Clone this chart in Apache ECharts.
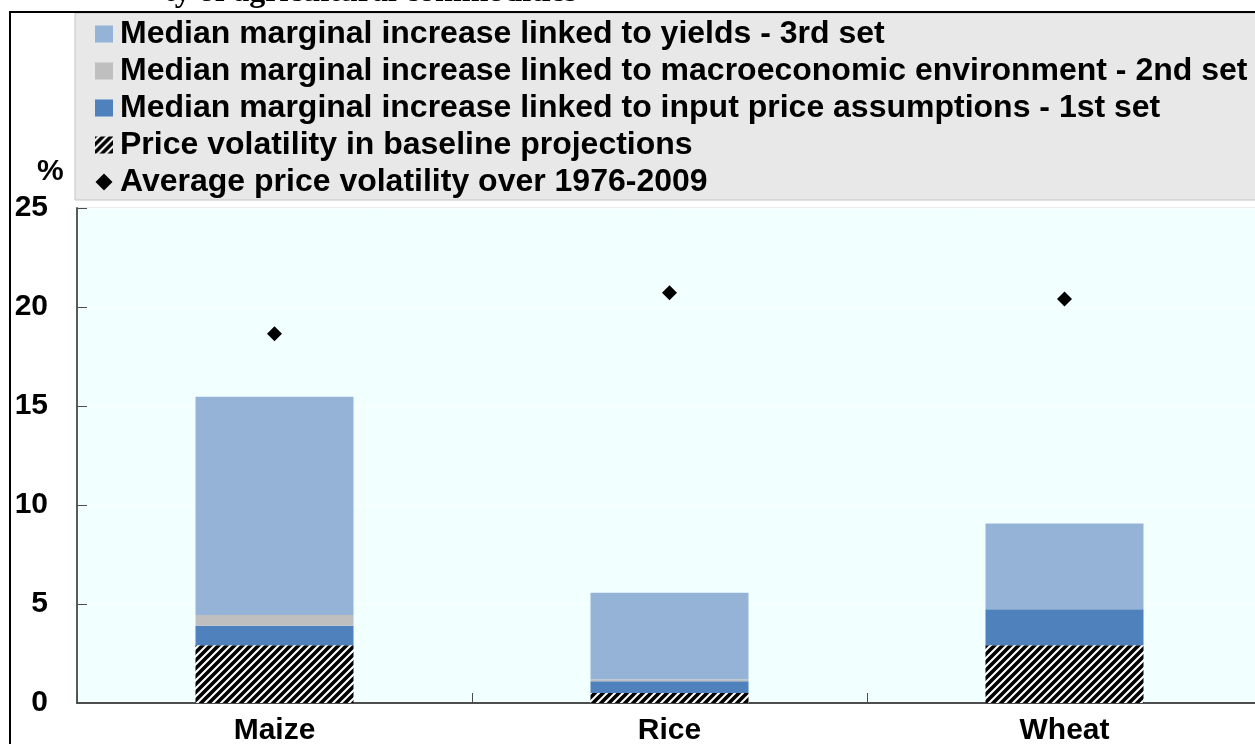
<!DOCTYPE html>
<html>
<head>
<meta charset="utf-8">
<script src="https://cdn.jsdelivr.net/npm/echarts@6/dist/echarts.min.js"></script>
<style>
  html, body { margin: 0; padding: 0; background: #fff; }
  #chart { width: 1255px; height: 744px; }
</style>
</head>
<body>
<div id="chart"></div>
<script>
// categories and values (%)
const categories = ['Maize', 'Rice', 'Wheat'];
const baseline = [2.92, 0.5, 2.92];      // price volatility in baseline projections
const inputPrice = [0.98, 0.6, 1.82];    // 1st set
const macroEnv = [0.54, 0.1, 0];         // 2nd set
const yieldsSet = [11.03, 4.37, 4.33];   // 3rd set
const avgVol = [18.65, 20.72, 20.41];    // average 1976-2009
const yTicks = [0, 5, 10, 15, 20, 25];

const FONT = 'Liberation Sans';

// diagonal black / white stripes
const makeHatch = () => {
  const c = document.createElement('canvas');
  c.width = 8;
  c.height = 8;
  const ctx = c.getContext('2d');
  ctx.fillStyle = '#fff';
  ctx.fillRect(0, 0, 8, 8);
  ctx.strokeStyle = '#000';
  ctx.lineWidth = 3.6;
  ctx.beginPath();
  ctx.moveTo(-2, 10); ctx.lineTo(10, -2);
  ctx.moveTo(-6, 6); ctx.lineTo(6, -6);
  ctx.moveTo(2, 14); ctx.lineTo(14, 2);
  ctx.stroke();
  return c;
};
const hatch = { image: makeHatch(), repeat: 'repeat' };

const names = {
  yields: 'Median marginal increase linked to yields - 3rd set',
  macro: 'Median marginal increase linked to macroeconomic environment - 2nd set',
  input: 'Median marginal increase linked to input price assumptions - 1st set',
  base: 'Price volatility in baseline projections',
  avg: 'Average price volatility over 1976-2009'
};

const chart = echarts.init(document.getElementById('chart'));

const option = {
  animation: false,
  backgroundColor: '#fff',
  graphic: [
    // grey legend panel
    {
      type: 'rect',
      z: -10,
      shape: { x: 75, y: 13, width: 1185, height: 187 },
      style: { fill: '#E8E8E8', stroke: '#C4C4C4', lineWidth: 1 }
    },
    // outer frame
    {
      type: 'polyline',
      z: 10,
      shape: { points: [[10, 744], [10, 12], [1255, 12]] },
      style: { stroke: '#000', lineWidth: 2, fill: null }
    },
    // cut-off title
    {
      type: 'text',
      left: 164,
      top: -23,
      style: {
        text: 'ty of agricultural commodities',
        font: 'bold 32px "Liberation Serif"',
        fill: '#000'
      }
    },
    // unit
    {
      type: 'text',
      left: 37,
      top: 157,
      style: {
        text: '%',
        font: 'bold 30px "' + FONT + '"',
        fill: '#000'
      }
    }
  ],
  legend: {
    orient: 'vertical',
    left: 95,
    top: 18,
    itemWidth: 18,
    itemHeight: 17,
    itemGap: 5,
    padding: 0,
    selectedMode: false,
    textStyle: {
      fontFamily: FONT,
      fontWeight: 'bold',
      fontSize: 32,
      lineHeight: 30,
      color: '#000',
      padding: [0, 0, 0, 2]
    },
    data: [
      { name: names.yields, icon: 'rect' },
      { name: names.macro, icon: 'rect' },
      { name: names.input, icon: 'rect' },
      { name: names.base, icon: 'rect' },
      { name: names.avg, icon: 'path://M7,0 L14,7 L7,14 L0,7 Z' }
    ]
  },
  grid: {
    left: 77,
    top: 208,
    width: 1185,
    bottom: 41,
    outerBoundsMode: 'none',
    show: true,
    backgroundColor: '#F2FFFF',
    borderColor: '#D6D6D6',
    borderWidth: 1
  },
  xAxis: {
    type: 'category',
    data: categories,
    axisLine: { lineStyle: { color: '#4D4D4D', width: 2 } },
    axisTick: { show: true, inside: true, length: 10, lineStyle: { color: '#4D4D4D' } },
    axisLabel: {
      margin: 13,
      fontFamily: FONT,
      fontWeight: 'bold',
      fontSize: 30,
      color: '#000'
    }
  },
  yAxis: {
    type: 'value',
    min: 0,
    max: 25,
    interval: 5,
    axisLine: { show: true, lineStyle: { color: '#5A5A5A', width: 2 } },
    axisTick: { show: true, inside: true, length: 10, lineStyle: { color: '#4D4D4D' } },
    splitLine: { show: true, lineStyle: { color: '#FAFFFF', width: 1 } },
    axisLabel: {
      margin: 29,
      fontFamily: FONT,
      fontWeight: 'bold',
      fontSize: 30,
      color: '#000',
      formatter: v => (yTicks.includes(v) ? String(v) : '')
    }
  },
  series: [
    {
      name: names.base,
      type: 'bar',
      stack: 'vol',
      barWidth: '40%',
      itemStyle: { color: hatch },
      data: baseline
    },
    {
      name: names.input,
      type: 'bar',
      stack: 'vol',
      itemStyle: { color: '#4F81BD' },
      data: inputPrice
    },
    {
      name: names.macro,
      type: 'bar',
      stack: 'vol',
      itemStyle: { color: '#BFBFBF' },
      data: macroEnv
    },
    {
      name: names.yields,
      type: 'bar',
      stack: 'vol',
      itemStyle: { color: '#95B3D7' },
      data: yieldsSet
    },
    {
      name: names.avg,
      type: 'scatter',
      symbol: 'diamond',
      symbolSize: 15,
      itemStyle: { color: '#000', opacity: 1 },
      data: avgVol
    }
  ]
};

chart.setOption(option);
</script>
</body>
</html>
